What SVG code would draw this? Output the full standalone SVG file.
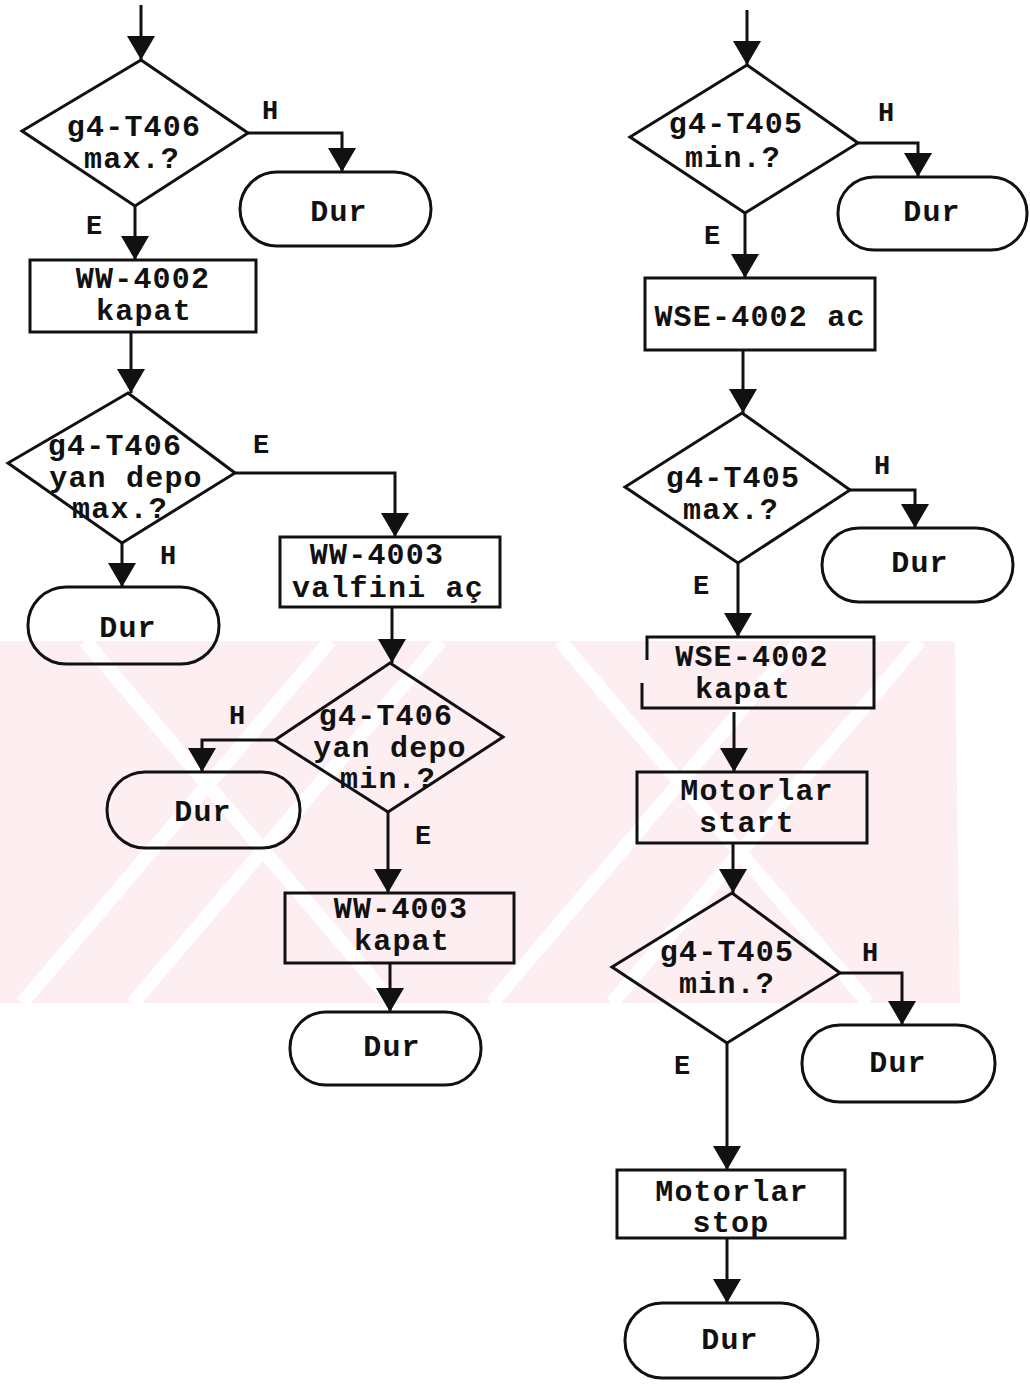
<svg xmlns="http://www.w3.org/2000/svg" width="1030" height="1384" viewBox="0 0 1030 1384">
  <defs>
    <marker id="ah" markerUnits="userSpaceOnUse" viewBox="0 0 24 28" markerWidth="24" markerHeight="28" refX="24" refY="14" orient="auto">
      <path d="M0,0 L24,14 L0,28 z" fill="#111"/>
    </marker>
    <clipPath id="wmclip">
      <polygon points="0,641 955,641 960,1003 0,1003"/>
    </clipPath>
  </defs>
  <style>
    .shape { fill: none; stroke: #111; stroke-width: 3; stroke-linejoin: miter; }
    .conn { fill: none; stroke: #111; stroke-width: 3; marker-end: url(#ah); }
    .t { font-family: "Liberation Mono", "Courier New", monospace; font-size: 30px; letter-spacing: 1.2px; font-weight: bold; fill: #111; text-anchor: middle; }
    .l { font-family: "Liberation Mono", "Courier New", monospace; font-size: 27px; font-weight: bold; fill: #111; text-anchor: middle; }
    .wm { fill: #fdeef1; }
    .gap { stroke: #ffffff; stroke-width: 14; }
  </style>

  <rect x="0" y="0" width="1030" height="1384" fill="#ffffff"/>

  <!-- faint background mark -->
  <g id="background-mark" clip-path="url(#wmclip)">
    <rect class="wm" x="0" y="641" width="960" height="362"/>
    <line class="gap" x1="85" y1="641" x2="393" y2="1003"/>
    <line class="gap" x1="560" y1="641" x2="868" y2="1003"/>
    <line class="gap" x1="441" y1="641" x2="133" y2="1003"/>
    <line class="gap" x1="330" y1="641" x2="22" y2="1003"/>
    <line class="gap" x1="920" y1="641" x2="612" y2="1003"/>
    <line class="gap" x1="800" y1="641" x2="492" y2="1003"/>
    <polygon points="955,641 1030,641 1030,1003 960,1003" fill="#ffffff"/>
  </g>

  <!-- connectors -->
  <g id="connectors">
    <path class="conn" d="M141,5 V60"/>
    <path class="conn" d="M248,133 H342 V172"/>
    <path class="conn" d="M135,206 V260"/>
    <path class="conn" d="M131,332 V393"/>
    <path class="conn" d="M235,473 H395 V537"/>
    <path class="conn" d="M122,543 V587"/>
    <path class="conn" d="M392,607 V663"/>
    <path class="conn" d="M275,740 H202 V772"/>
    <path class="conn" d="M388,812 V893"/>
    <path class="conn" d="M390,963 V1012"/>

    <path class="conn" d="M747,10 V65"/>
    <path class="conn" d="M858,143 H918 V177"/>
    <path class="conn" d="M745,213 V278"/>
    <path class="conn" d="M743,350 V413"/>
    <path class="conn" d="M850,490 H915 V528"/>
    <path class="conn" d="M738,563 V637"/>
    <path class="conn" d="M734,712 V772"/>
    <path class="conn" d="M733,843 V893"/>
    <path class="conn" d="M840,973 H902 V1025"/>
    <path class="conn" d="M727,1043 V1170"/>
    <path class="conn" d="M727,1238 V1303"/>

    <text class="l" x="270" y="119">H</text>
    <text class="l" x="94" y="234">E</text>
    <text class="l" x="261" y="453">E</text>
    <text class="l" x="168" y="564">H</text>
    <text class="l" x="237" y="724">H</text>
    <text class="l" x="423" y="844">E</text>

    <text class="l" x="886" y="121">H</text>
    <text class="l" x="712" y="244">E</text>
    <text class="l" x="882" y="474">H</text>
    <text class="l" x="701" y="594">E</text>
    <text class="l" x="870" y="961">H</text>
    <text class="l" x="682" y="1074">E</text>
  </g>

  <!-- left flow -->
  <g id="q-t406-max">
    <polygon class="shape" points="141,60 248,133 135,206 22,131"/>
    <text class="t" x="134" y="136">g4-T406</text>
    <text class="t" x="132" y="168">max.?</text>
  </g>
  <g id="stop-1">
    <rect class="shape" x="240" y="172" width="191" height="74" rx="37"/>
    <text class="t" x="339" y="221">Dur</text>
  </g>
  <g id="ww4002-close">
    <rect class="shape" x="30" y="260" width="226" height="72"/>
    <text class="t" x="143" y="288">WW-4002</text>
    <text class="t" x="144" y="320">kapat</text>
  </g>
  <g id="q-side-max">
    <polygon class="shape" points="128,393 235,473 122,543 8,463"/>
    <text class="t" x="115" y="455">g4-T406</text>
    <text class="t" x="126" y="487">yan depo</text>
    <text class="t" x="120" y="518">max.?</text>
  </g>
  <g id="stop-2">
    <rect class="shape" x="28" y="587" width="191" height="77" rx="38"/>
    <text class="t" x="128" y="637">Dur</text>
  </g>
  <g id="ww4003-open">
    <rect class="shape" x="280" y="537" width="220" height="70"/>
    <text class="t" x="377" y="564">WW-4003</text>
    <text class="t" x="388" y="597">valfini aç</text>
  </g>
  <g id="q-side-min">
    <polygon class="shape" points="390,663 503,737 388,812 275,740"/>
    <text class="t" x="386" y="725">g4-T406</text>
    <text class="t" x="390" y="757">yan depo</text>
    <text class="t" x="388" y="788">min.?</text>
  </g>
  <g id="stop-3">
    <rect class="shape" x="107" y="772" width="193" height="76" rx="38"/>
    <text class="t" x="203" y="821">Dur</text>
  </g>
  <g id="ww4003-close">
    <rect class="shape" x="285" y="893" width="229" height="70"/>
    <text class="t" x="401" y="918">WW-4003</text>
    <text class="t" x="402" y="950">kapat</text>
  </g>
  <g id="stop-4">
    <rect class="shape" x="290" y="1012" width="191" height="73" rx="36"/>
    <text class="t" x="392" y="1056">Dur</text>
  </g>

  <!-- right flow -->
  <g id="q-t405-min">
    <polygon class="shape" points="747,65 858,143 745,213 630,137"/>
    <text class="t" x="736" y="133">g4-T405</text>
    <text class="t" x="733" y="167">min.?</text>
  </g>
  <g id="stop-5">
    <rect class="shape" x="838" y="177" width="189" height="73" rx="36"/>
    <text class="t" x="932" y="221">Dur</text>
  </g>
  <g id="wse4002-open">
    <rect class="shape" x="645" y="278" width="230" height="72"/>
    <text class="t" x="760" y="326">WSE-4002 ac</text>
  </g>
  <g id="q-t405-max">
    <polygon class="shape" points="742,413 850,490 738,563 625,487"/>
    <text class="t" x="733" y="487">g4-T405</text>
    <text class="t" x="731" y="519">max.?</text>
  </g>
  <g id="stop-6">
    <rect class="shape" x="822" y="528" width="191" height="74" rx="37"/>
    <text class="t" x="920" y="572">Dur</text>
  </g>
  <g id="wse4002-close">
    <path class="shape" d="M647,660 V637 H874 V708 H642 V683"/>
    <text class="t" x="752" y="666">WSE-4002</text>
    <text class="t" x="743" y="698">kapat</text>
  </g>
  <g id="motors-start">
    <rect class="shape" x="637" y="772" width="230" height="71"/>
    <text class="t" x="757" y="800">Motorlar</text>
    <text class="t" x="747" y="832">start</text>
  </g>
  <g id="q-t405-min-2">
    <polygon class="shape" points="732,893 840,973 727,1043 612,967"/>
    <text class="t" x="727" y="961">g4-T405</text>
    <text class="t" x="727" y="993">min.?</text>
  </g>
  <g id="stop-7">
    <rect class="shape" x="802" y="1025" width="193" height="77" rx="38"/>
    <text class="t" x="898" y="1072">Dur</text>
  </g>
  <g id="motors-stop">
    <rect class="shape" x="617" y="1170" width="228" height="68"/>
    <text class="t" x="732" y="1201">Motorlar</text>
    <text class="t" x="731" y="1232">stop</text>
  </g>
  <g id="stop-8">
    <rect class="shape" x="625" y="1303" width="193" height="75" rx="37"/>
    <text class="t" x="730" y="1349">Dur</text>
  </g>
</svg>
